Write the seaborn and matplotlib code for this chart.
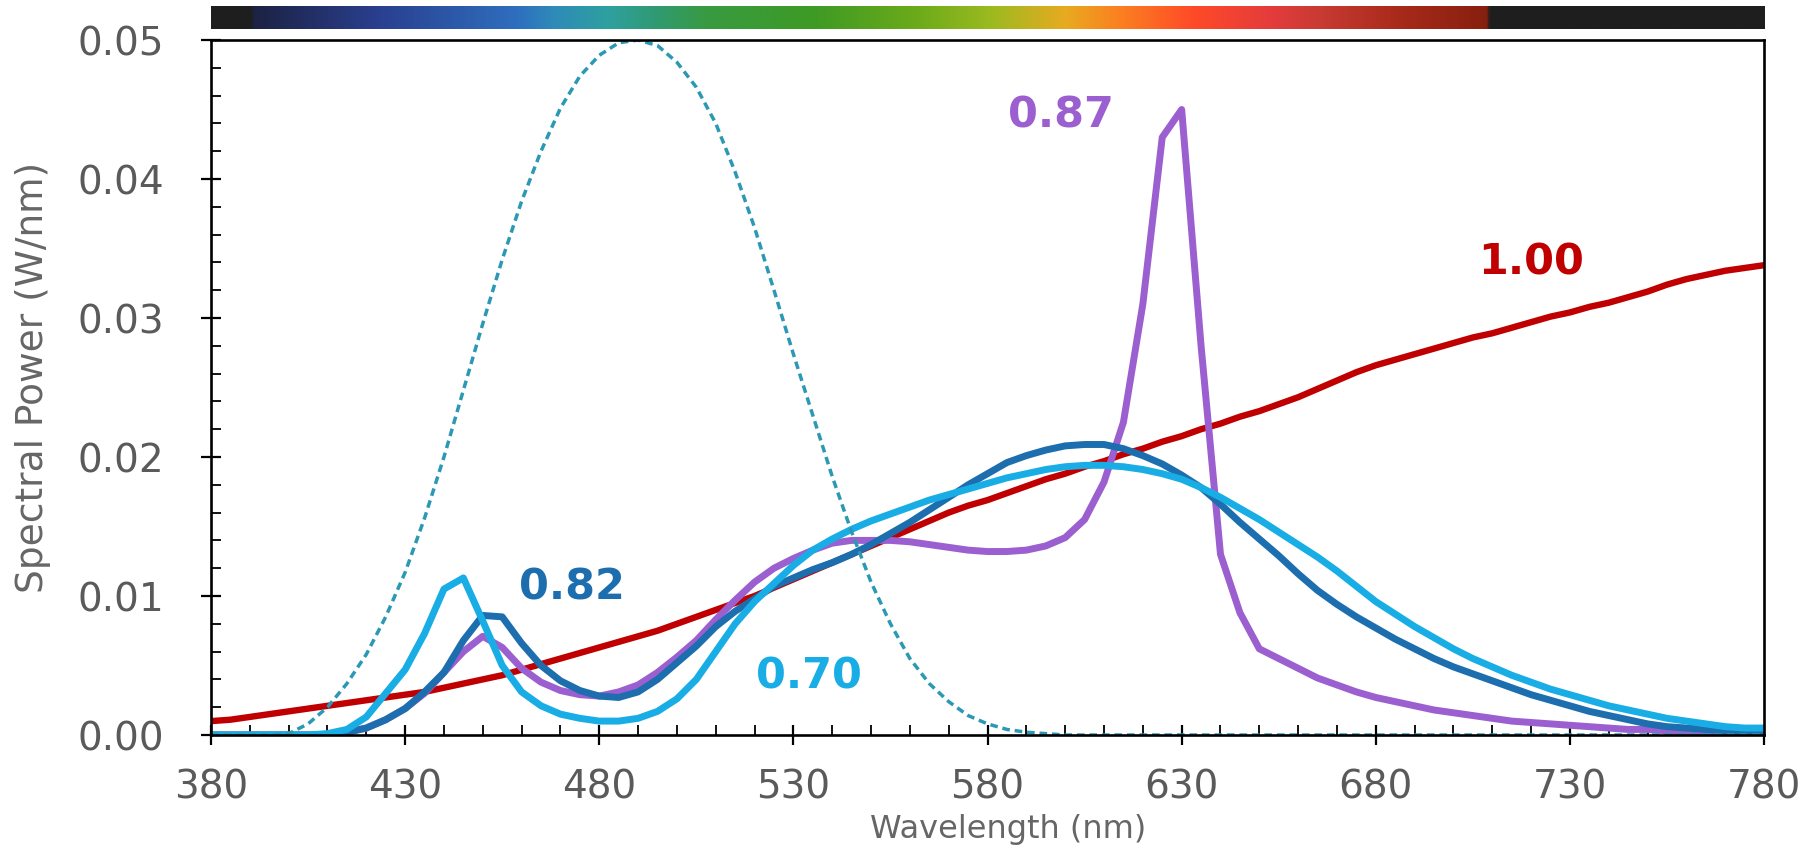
import numpy as np
import pandas as pd
import matplotlib
matplotlib.use("Agg")
import matplotlib.pyplot as plt
import seaborn as sns
from matplotlib.colors import LinearSegmentedColormap, Normalize
from matplotlib.ticker import MultipleLocator, FormatStrFormatter

# ---------------- data ----------------
wavelength = list(range(380, 785, 5))  # nm, 5 nm steps

reference_dashed = [
    0, 0, 0, 0, 0.0001, 0.0008, 0.0020, 0.0037, 0.0058, 0.0085,          # 380-425
    0.0117, 0.0156, 0.0200, 0.0248, 0.0296, 0.0342, 0.0384, 0.0420, 0.0451, 0.0474,  # 430-475
    0.0489, 0.0498, 0.0500, 0.0496, 0.0484, 0.0466, 0.0440, 0.0405, 0.0365, 0.0320,  # 480-525
    0.0274, 0.0230, 0.0186, 0.0146, 0.0110, 0.0080, 0.0055, 0.0037, 0.0024, 0.0014,  # 530-575
    0.0008, 0.0004, 0.0002, 0.0001, 0, 0, 0, 0, 0, 0,                    # 580-625
    0, 0, 0, 0, 0, 0, 0, 0, 0, 0,                                        # 630-675
    0, 0, 0, 0, 0, 0, 0, 0, 0, 0,                                        # 680-725
    0, 0, 0, 0, 0, 0, 0, 0, 0, 0,                                        # 730-775
    0,                                                                   # 780
]

spd_100 = [  # red, "1.00"
    0.0010, 0.0011, 0.0013, 0.0015, 0.0017, 0.0019, 0.0021, 0.0023, 0.0025, 0.0027,
    0.0029, 0.0031, 0.0034, 0.0037, 0.0040, 0.0043, 0.0047, 0.0051, 0.0055, 0.0059,
    0.0063, 0.0067, 0.0071, 0.0075, 0.0080, 0.0085, 0.0090, 0.0095, 0.0100, 0.0106,
    0.0112, 0.0118, 0.0124, 0.0130, 0.0136, 0.0142, 0.0148, 0.0154, 0.0160, 0.0165,
    0.0169, 0.0174, 0.0179, 0.0184, 0.0188, 0.0193, 0.0197, 0.0202, 0.0206, 0.0211,
    0.0215, 0.0220, 0.0224, 0.0229, 0.0233, 0.0238, 0.0243, 0.0249, 0.0255, 0.0261,
    0.0266, 0.0270, 0.0274, 0.0278, 0.0282, 0.0286, 0.0289, 0.0293, 0.0297, 0.0301,
    0.0304, 0.0308, 0.0311, 0.0315, 0.0319, 0.0324, 0.0328, 0.0331, 0.0334, 0.0336,
    0.0338,
]

spd_087 = [  # purple, "0.87"
    0, 0, 0, 0, 0, 0, 0, 0.0002, 0.0005, 0.0011,
    0.0019, 0.0030, 0.0045, 0.0060, 0.0071, 0.0063, 0.0048, 0.0038, 0.0032, 0.0029,
    0.0028, 0.0031, 0.0036, 0.0045, 0.0056, 0.0068, 0.0083, 0.0097, 0.0110, 0.0120,
    0.0127, 0.0133, 0.0138, 0.0140, 0.0140, 0.0140, 0.0139, 0.0137, 0.0135, 0.0133,
    0.0132, 0.0132, 0.0133, 0.0136, 0.0142, 0.0155, 0.0182, 0.0225, 0.0310, 0.0430,
    0.0450, 0.0280, 0.0130, 0.0088, 0.0062, 0.0055, 0.0048, 0.0041, 0.0036, 0.0031,
    0.0027, 0.0024, 0.0021, 0.0018, 0.0016, 0.0014, 0.0012, 0.0010, 0.0009, 0.0008,
    0.0007, 0.0006, 0.0005, 0.0004, 0.0004, 0.0003, 0.0002, 0.0002, 0.0001, 0.0001,
    0.0001,
]

spd_082 = [  # dark blue, "0.82"
    0, 0, 0, 0, 0, 0, 0, 0.0002, 0.0005, 0.0011,
    0.0019, 0.0031, 0.0045, 0.0068, 0.0086, 0.0085, 0.0066, 0.0050, 0.0039, 0.0032,
    0.0028, 0.0027, 0.0031, 0.0040, 0.0052, 0.0064, 0.0078, 0.0089, 0.0098, 0.0107,
    0.0113, 0.0119, 0.0124, 0.0130, 0.0137, 0.0145, 0.0153, 0.0162, 0.0171, 0.0180,
    0.0188, 0.0196, 0.0201, 0.0205, 0.0208, 0.0209, 0.0209, 0.0206, 0.0201, 0.0195,
    0.0187, 0.0178, 0.0166, 0.0153, 0.0141, 0.0129, 0.0116, 0.0104, 0.0094, 0.0085,
    0.0077, 0.0069, 0.0062, 0.0055, 0.0049, 0.0044, 0.0039, 0.0034, 0.0029, 0.0025,
    0.0021, 0.0017, 0.0014, 0.0011, 0.0008, 0.0006, 0.0005, 0.0004, 0.0003, 0.0002,
    0.0002,
]

spd_070 = [  # light blue, "0.70"
    0, 0, 0, 0, 0, 0, 0.0001, 0.0004, 0.0013, 0.0030,
    0.0047, 0.0073, 0.0105, 0.0113, 0.0082, 0.0050, 0.0031, 0.0021, 0.0015, 0.0012,
    0.0010, 0.0010, 0.0012, 0.0017, 0.0026, 0.0040, 0.0060, 0.0080, 0.0096, 0.0109,
    0.0122, 0.0133, 0.0141, 0.0148, 0.0154, 0.0159, 0.0164, 0.0169, 0.0173, 0.0177,
    0.0181, 0.0185, 0.0188, 0.0191, 0.0193, 0.0194, 0.0194, 0.0193, 0.0191, 0.0188,
    0.0184, 0.0178, 0.0171, 0.0163, 0.0155, 0.0146, 0.0137, 0.0128, 0.0118, 0.0107,
    0.0096, 0.0087, 0.0078, 0.0070, 0.0062, 0.0055, 0.0049, 0.0043, 0.0038, 0.0033,
    0.0029, 0.0025, 0.0021, 0.0018, 0.0015, 0.0012, 0.0010, 0.0008, 0.0006, 0.0005,
    0.0005,
]

series_names = ["1.00", "0.87", "0.82", "0.70"]
series_colors = ["#c00000", "#9b5fd0", "#1c6eae", "#19ade6"]
series_widths = [4.6, 5.0, 5.0, 5.0]
label_wavelength = [720, 599, 473, 534]
label_power = [0.0340, 0.0446, 0.0106, 0.0042]

# visible spectrum strip: (nm, colour) stops
spectrum_nm = [380, 390, 390.6, 423, 459, 468, 482, 495, 508, 535, 561, 581,
               600, 614, 633, 653, 666, 686, 707, 708.6, 709.4, 780]
spectrum_colors = ["#1e1e1e", "#1e1e1e", "#1c2242", "#2a3f8f", "#2f6fbf", "#2e8ab8",
                   "#2fa0a0", "#309a70", "#389a40", "#3e9a25", "#6aaa1a", "#9cba20",
                   "#e8aa20", "#fb8020", "#ff4a28", "#e43c3c", "#c83a32", "#a82a1a",
                   "#8a2010", "#82200f", "#1e1e1e", "#1e1e1e"]

x_ticks = [380, 430, 480, 530, 580, 630, 680, 730, 780]

# ---------------- plotting ----------------
sns.set_theme(style="white")
plt.rcParams["font.family"] = ["DejaVu Sans"]

fig = plt.figure(figsize=(18.08, 8.64), dpi=100)
fig.patch.set_facecolor("white")
ax = fig.add_axes([0.1167, 0.1493, 0.8590, 0.8044])
ax_bar = fig.add_axes([0.1167, 0.9664, 0.8590, 0.0266])

df = pd.DataFrame({"wavelength": wavelength, "ref": reference_dashed,
                   "1.00": spd_100, "0.87": spd_087, "0.82": spd_082, "0.70": spd_070})

for name, col, lw in zip(series_names, series_colors, series_widths):
    sns.lineplot(data=df, x="wavelength", y=name, ax=ax, color=col,
                 linewidth=lw, solid_joinstyle="round", legend=False)
sns.lineplot(data=df, x="wavelength", y="ref", ax=ax, color="#2b98b4",
             linewidth=2.5, linestyle=(0, (2.2, 1.4)), legend=False)

for name, col, lx, ly in zip(series_names, series_colors, label_wavelength, label_power):
    ax.text(lx, ly, name, color=col, fontsize=31, fontweight="bold",
            ha="center", va="center")

ax.set_xlim(380, 780)
ax.set_ylim(0, 0.05)
ax.set_xticks(x_ticks)
ax.xaxis.set_minor_locator(MultipleLocator(10))
ax.yaxis.set_major_locator(MultipleLocator(0.01))
ax.yaxis.set_minor_locator(MultipleLocator(0.002))
ax.yaxis.set_major_formatter(FormatStrFormatter("%.2f"))

ax.tick_params(axis="both", which="major", direction="inout", length=14, width=1.6,
               color="black", labelsize=28, labelcolor="#5a5a5a",
               bottom=True, left=True, top=False, right=False)
ax.tick_params(axis="both", which="minor", direction="in", length=7, width=1.3,
               color="black", bottom=True, left=True, top=False, right=False)
ax.tick_params(axis="y", which="major", pad=27)
ax.tick_params(axis="x", which="major", pad=17)

for s in ax.spines.values():
    s.set_visible(True)
    s.set_color("black")
    s.set_linewidth(1.9)

ax.set_xlabel("Wavelength (nm)", fontsize=23, color="#666666")
ax.xaxis.set_label_coords(0.5135, -0.114)
ax.set_ylabel("Spectral Power (W/nm)", fontsize=27, color="#666666")
ax.yaxis.set_label_coords(-0.103, 0.515)
ax.grid(False)

cmap = LinearSegmentedColormap.from_list(
    "spectrum", [((n - 380) / 400, c) for n, c in zip(spectrum_nm, spectrum_colors)], N=1024)
grad = np.linspace(380, 780, 1600)[None, :]
ax_bar.imshow(grad, extent=[380, 780, 0, 1], aspect="auto", cmap=cmap,
              norm=Normalize(380, 780), interpolation="bilinear")
ax_bar.set_xlim(380, 780)
ax_bar.axis("off")

fig.savefig("out.png", dpi=100, facecolor="white")
